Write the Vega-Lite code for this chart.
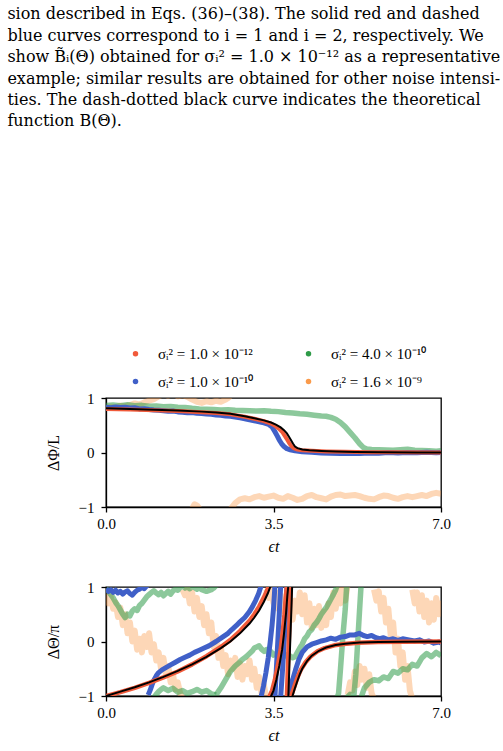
{
  "$schema": "https://vega.github.io/schema/vega-lite/v6.json",
  "padding": {"left": 7, "top": 6, "right": 5, "bottom": 5},
  "title": {
    "text": [
      "sion described in Eqs. (36)–(38). The solid red and dashed",
      "blue curves correspond to i = 1 and i = 2, respectively. We",
      "show B̃ᵢ(Θ) obtained for σᵢ² = 1.0 × 10⁻¹² as a representative",
      "example; similar results are obtained for other noise intensi-",
      "ties. The dash-dotted black curve indicates the theoretical",
      "function B(Θ)."
    ],
    "anchor": "start",
    "frame": "bounds",
    "dx": -37,
    "offset": 216,
    "font": "DejaVu Serif",
    "fontSize": 16,
    "fontWeight": "normal",
    "lineHeight": 21.4,
    "color": "black"
  },
  "datasets": {
    "a_k": [{"t":0,"v":0.81},{"t":0.5,"v":0.8},{"t":1,"v":0.785},{"t":1.5,"v":0.77},{"t":2,"v":0.75},{"t":2.3,"v":0.735},{"t":2.6,"v":0.71},{"t":2.9,"v":0.665},{"t":3.1,"v":0.63},{"t":3.3,"v":0.59},{"t":3.45,"v":0.55},{"t":3.55,"v":0.51},{"t":3.65,"v":0.46},{"t":3.72,"v":0.41},{"t":3.78,"v":0.35},{"t":3.83,"v":0.28},{"t":3.87,"v":0.22},{"t":3.91,"v":0.16},{"t":3.95,"v":0.11},{"t":4,"v":0.08},{"t":4.1,"v":0.055},{"t":4.25,"v":0.04},{"t":4.5,"v":0.028},{"t":4.8,"v":0.018},{"t":5.2,"v":0.01},{"t":5.8,"v":0.004},{"t":6.5,"v":0.001},{"t":7,"v":0}],
    "a_r": [{"t":0,"v":0.8},{"t":0.5,"v":0.79},{"t":1,"v":0.775},{"t":1.5,"v":0.76},{"t":2,"v":0.74},{"t":2.3,"v":0.725},{"t":2.6,"v":0.7},{"t":2.9,"v":0.655},{"t":3.1,"v":0.62},{"t":3.3,"v":0.575},{"t":3.45,"v":0.53},{"t":3.55,"v":0.48},{"t":3.62,"v":0.43},{"t":3.69,"v":0.37},{"t":3.74,"v":0.3},{"t":3.79,"v":0.23},{"t":3.83,"v":0.17},{"t":3.87,"v":0.12},{"t":3.92,"v":0.08},{"t":4,"v":0.055},{"t":4.1,"v":0.04},{"t":4.3,"v":0.03},{"t":4.6,"v":0.02},{"t":5,"v":0.012},{"t":5.5,"v":0.006},{"t":6,"v":0.003},{"t":7,"v":0}],
    "a_b": [{"t":0,"v":0.83},{"t":0.1,"v":0.82},{"t":0.2,"v":0.835},{"t":0.3,"v":0.825},{"t":0.4,"v":0.83},{"t":0.5,"v":0.815},{"t":0.6,"v":0.82},{"t":0.7,"v":0.8},{"t":0.8,"v":0.805},{"t":0.9,"v":0.79},{"t":1,"v":0.78},{"t":1.1,"v":0.775},{"t":1.2,"v":0.765},{"t":1.3,"v":0.755},{"t":1.4,"v":0.76},{"t":1.5,"v":0.745},{"t":1.6,"v":0.74},{"t":1.7,"v":0.73},{"t":1.8,"v":0.735},{"t":1.9,"v":0.72},{"t":2,"v":0.715},{"t":2.1,"v":0.705},{"t":2.2,"v":0.7},{"t":2.3,"v":0.69},{"t":2.4,"v":0.685},{"t":2.5,"v":0.67},{"t":2.6,"v":0.665},{"t":2.7,"v":0.65},{"t":2.8,"v":0.635},{"t":2.9,"v":0.62},{"t":3,"v":0.6},{"t":3.1,"v":0.58},{"t":3.2,"v":0.565},{"t":3.3,"v":0.545},{"t":3.4,"v":0.515},{"t":3.47,"v":0.47},{"t":3.53,"v":0.38},{"t":3.58,"v":0.3},{"t":3.62,"v":0.23},{"t":3.67,"v":0.16},{"t":3.72,"v":0.11},{"t":3.78,"v":0.07},{"t":3.85,"v":0.05},{"t":3.95,"v":0.03},{"t":4.1,"v":0.015},{"t":4.3,"v":0.005},{"t":4.5,"v":-0.01},{"t":4.7,"v":-0.015},{"t":4.9,"v":-0.02},{"t":5.1,"v":-0.012},{"t":5.3,"v":-0.018},{"t":5.5,"v":-0.008},{"t":5.7,"v":-0.012},{"t":5.9,"v":-0.002},{"t":6.1,"v":-0.01},{"t":6.3,"v":0},{"t":6.5,"v":-0.006},{"t":6.7,"v":0.004},{"t":6.9,"v":-0.003},{"t":7,"v":0}],
    "a_g": [{"t":0,"v":0.86},{"t":0.15,"v":0.87},{"t":0.3,"v":0.86},{"t":0.45,"v":0.875},{"t":0.6,"v":0.86},{"t":0.75,"v":0.865},{"t":0.9,"v":0.85},{"t":1.05,"v":0.855},{"t":1.2,"v":0.84},{"t":1.35,"v":0.845},{"t":1.5,"v":0.83},{"t":1.65,"v":0.825},{"t":1.8,"v":0.81},{"t":1.95,"v":0.8},{"t":2.1,"v":0.795},{"t":2.25,"v":0.79},{"t":2.4,"v":0.78},{"t":2.55,"v":0.785},{"t":2.7,"v":0.775},{"t":2.85,"v":0.77},{"t":3,"v":0.765},{"t":3.15,"v":0.76},{"t":3.3,"v":0.765},{"t":3.45,"v":0.755},{"t":3.6,"v":0.75},{"t":3.75,"v":0.735},{"t":3.9,"v":0.725},{"t":4.05,"v":0.71},{"t":4.2,"v":0.7},{"t":4.35,"v":0.685},{"t":4.5,"v":0.67},{"t":4.6,"v":0.665},{"t":4.7,"v":0.645},{"t":4.8,"v":0.61},{"t":4.9,"v":0.55},{"t":5,"v":0.47},{"t":5.1,"v":0.37},{"t":5.2,"v":0.27},{"t":5.3,"v":0.16},{"t":5.38,"v":0.09},{"t":5.45,"v":0.065},{"t":5.55,"v":0.055},{"t":5.7,"v":0.05},{"t":5.85,"v":0.045},{"t":6,"v":0.04},{"t":6.15,"v":0.05},{"t":6.3,"v":0.06},{"t":6.45,"v":0.04},{"t":6.6,"v":0.035},{"t":6.75,"v":0.03},{"t":6.9,"v":0.025},{"t":7,"v":0.03}],
    "a_o": [{"g":1,"t":0,"v":0.82},{"g":1,"t":0.1,"v":0.84},{"g":1,"t":0.2,"v":0.83},{"g":1,"t":0.3,"v":0.86},{"g":1,"t":0.4,"v":0.85},{"g":1,"t":0.5,"v":0.87},{"g":1,"t":0.6,"v":0.9},{"g":1,"t":0.7,"v":0.88},{"g":1,"t":0.8,"v":0.92},{"g":1,"t":0.9,"v":0.95},{"g":1,"t":1,"v":0.98},{"g":1,"t":1.1,"v":1.03},{"g":1,"t":1.2,"v":1.07},{"g":1,"t":1.3,"v":1.04},{"g":1,"t":1.4,"v":1.08},{"g":1,"t":1.5,"v":1.03},{"g":1,"t":1.6,"v":1.05},{"g":1,"t":1.7,"v":1.02},{"g":1,"t":1.8,"v":0.97},{"g":1,"t":1.9,"v":0.93},{"g":1,"t":2,"v":0.91},{"g":1,"t":2.1,"v":0.94},{"g":1,"t":2.2,"v":0.92},{"g":1,"t":2.3,"v":0.95},{"g":1,"t":2.4,"v":0.93},{"g":1,"t":2.5,"v":0.97},{"g":1,"t":2.55,"v":1},{"g":1,"t":2.6,"v":1.04},
      {"g":2,"t":1.8,"v":-1.03},{"g":2,"t":1.85,"v":-0.95},{"g":2,"t":1.9,"v":-0.97},{"g":2,"t":1.95,"v":-1.03},
      {"g":3,"t":2.6,"v":-1.04},{"g":3,"t":2.7,"v":-0.93},{"g":3,"t":2.8,"v":-0.86},{"g":3,"t":2.9,"v":-0.84},{"g":3,"t":3,"v":-0.86},{"g":3,"t":3.1,"v":-0.82},{"g":3,"t":3.2,"v":-0.8},{"g":3,"t":3.3,"v":-0.83},{"g":3,"t":3.4,"v":-0.81},{"g":3,"t":3.5,"v":-0.79},{"g":3,"t":3.6,"v":-0.83},{"g":3,"t":3.7,"v":-0.85},{"g":3,"t":3.8,"v":-0.8},{"g":3,"t":3.9,"v":-0.83},{"g":3,"t":4,"v":-0.87},{"g":3,"t":4.1,"v":-0.85},{"g":3,"t":4.2,"v":-0.8},{"g":3,"t":4.3,"v":-0.78},{"g":3,"t":4.4,"v":-0.82},{"g":3,"t":4.5,"v":-0.84},{"g":3,"t":4.6,"v":-0.86},{"g":3,"t":4.7,"v":-0.81},{"g":3,"t":4.8,"v":-0.78},{"g":3,"t":4.9,"v":-0.77},{"g":3,"t":5,"v":-0.8},{"g":3,"t":5.1,"v":-0.79},{"g":3,"t":5.2,"v":-0.78},{"g":3,"t":5.3,"v":-0.8},{"g":3,"t":5.4,"v":-0.83},{"g":3,"t":5.5,"v":-0.85},{"g":3,"t":5.6,"v":-0.86},{"g":3,"t":5.7,"v":-0.82},{"g":3,"t":5.8,"v":-0.79},{"g":3,"t":5.9,"v":-0.8},{"g":3,"t":6,"v":-0.83},{"g":3,"t":6.1,"v":-0.85},{"g":3,"t":6.2,"v":-0.82},{"g":3,"t":6.3,"v":-0.8},{"g":3,"t":6.4,"v":-0.82},{"g":3,"t":6.5,"v":-0.8},{"g":3,"t":6.6,"v":-0.78},{"g":3,"t":6.7,"v":-0.8},{"g":3,"t":6.8,"v":-0.76},{"g":3,"t":6.9,"v":-0.74},{"g":3,"t":7,"v":-0.76}],
    "b_k": [{"g":1,"t":0,"v":-1},{"g":1,"t":0.3,"v":-0.92},{"g":1,"t":0.6,"v":-0.84},{"g":1,"t":0.9,"v":-0.75},{"g":1,"t":1.2,"v":-0.65},{"g":1,"t":1.5,"v":-0.54},{"g":1,"t":1.8,"v":-0.42},{"g":1,"t":2.1,"v":-0.28},{"g":1,"t":2.4,"v":-0.12},{"g":1,"t":2.6,"v":0},{"g":1,"t":2.8,"v":0.15},{"g":1,"t":3,"v":0.33},{"g":1,"t":3.1,"v":0.44},{"g":1,"t":3.2,"v":0.57},{"g":1,"t":3.3,"v":0.73},{"g":1,"t":3.38,"v":0.88},{"g":1,"t":3.44,"v":1.02},
      {"g":2,"t":3.44,"v":-1.02},{"g":2,"t":3.5,"v":-0.9},{"g":2,"t":3.56,"v":-0.7},{"g":2,"t":3.62,"v":-0.45},{"g":2,"t":3.68,"v":-0.15},{"g":2,"t":3.72,"v":0.15},{"g":2,"t":3.76,"v":0.5},{"g":2,"t":3.79,"v":0.85},{"g":2,"t":3.81,"v":1.02},
      {"g":3,"t":3.81,"v":-1.02},{"g":3,"t":3.83,"v":-0.5},{"g":3,"t":3.85,"v":0},{"g":3,"t":3.87,"v":0.5},{"g":3,"t":3.89,"v":1.02},
      {"g":4,"t":3.89,"v":-1.02},{"g":4,"t":3.95,"v":-0.85},{"g":4,"t":4,"v":-0.72},{"g":4,"t":4.05,"v":-0.6},{"g":4,"t":4.1,"v":-0.5},{"g":4,"t":4.2,"v":-0.36},{"g":4,"t":4.3,"v":-0.26},{"g":4,"t":4.45,"v":-0.17},{"g":4,"t":4.6,"v":-0.11},{"g":4,"t":4.8,"v":-0.065},{"g":4,"t":5,"v":-0.04},{"g":4,"t":5.3,"v":-0.02},{"g":4,"t":5.7,"v":-0.008},{"g":4,"t":6.2,"v":-0.003},{"g":4,"t":7,"v":0}],
    "b_r": [{"g":1,"t":0,"v":-1},{"g":1,"t":0.3,"v":-0.93},{"g":1,"t":0.6,"v":-0.85},{"g":1,"t":0.9,"v":-0.76},{"g":1,"t":1.2,"v":-0.66},{"g":1,"t":1.5,"v":-0.55},{"g":1,"t":1.8,"v":-0.42},{"g":1,"t":2.1,"v":-0.27},{"g":1,"t":2.4,"v":-0.1},{"g":1,"t":2.6,"v":0.03},{"g":1,"t":2.8,"v":0.19},{"g":1,"t":3,"v":0.38},{"g":1,"t":3.1,"v":0.5},{"g":1,"t":3.2,"v":0.64},{"g":1,"t":3.3,"v":0.81},{"g":1,"t":3.36,"v":0.93},{"g":1,"t":3.41,"v":1.02},
      {"g":2,"t":3.41,"v":-1.02},{"g":2,"t":3.47,"v":-0.9},{"g":2,"t":3.53,"v":-0.7},{"g":2,"t":3.59,"v":-0.45},{"g":2,"t":3.65,"v":-0.15},{"g":2,"t":3.69,"v":0.15},{"g":2,"t":3.73,"v":0.5},{"g":2,"t":3.76,"v":0.85},{"g":2,"t":3.78,"v":1.02},
      {"g":3,"t":3.78,"v":-1.02},{"g":3,"t":3.8,"v":-0.5},{"g":3,"t":3.82,"v":0},{"g":3,"t":3.84,"v":0.5},{"g":3,"t":3.86,"v":1.02},
      {"g":4,"t":3.86,"v":-1.02},{"g":4,"t":3.92,"v":-0.87},{"g":4,"t":3.97,"v":-0.74},{"g":4,"t":4.02,"v":-0.62},{"g":4,"t":4.07,"v":-0.52},{"g":4,"t":4.17,"v":-0.38},{"g":4,"t":4.27,"v":-0.28},{"g":4,"t":4.42,"v":-0.18},{"g":4,"t":4.57,"v":-0.12},{"g":4,"t":4.77,"v":-0.07},{"g":4,"t":4.97,"v":-0.045},{"g":4,"t":5.27,"v":-0.022},{"g":4,"t":5.67,"v":-0.01},{"g":4,"t":6.2,"v":-0.004},{"g":4,"t":7,"v":0}],
    "b_b": [{"g":1,"t":0,"v":0.97},{"g":1,"t":0.05,"v":0.92},{"g":1,"t":0.1,"v":0.95},{"g":1,"t":0.15,"v":0.9},{"g":1,"t":0.2,"v":0.94},{"g":1,"t":0.25,"v":0.89},{"g":1,"t":0.3,"v":0.92},{"g":1,"t":0.35,"v":0.87},{"g":1,"t":0.4,"v":0.91},{"g":1,"t":0.45,"v":0.93},{"g":1,"t":0.5,"v":0.88},{"g":1,"t":0.55,"v":0.85},{"g":1,"t":0.6,"v":0.9},{"g":1,"t":0.65,"v":0.94},{"g":1,"t":0.7,"v":0.96},{"g":1,"t":0.75,"v":0.99},{"g":1,"t":0.8,"v":0.97},{"g":1,"t":0.85,"v":1.02},{"g":1,"t":0.88,"v":1.04},
      {"g":2,"t":0.88,"v":-0.98},{"g":2,"t":0.92,"v":-0.9},{"g":2,"t":0.96,"v":-0.8},{"g":2,"t":1,"v":-0.71},{"g":2,"t":1.05,"v":-0.63},{"g":2,"t":1.1,"v":-0.57},{"g":2,"t":1.17,"v":-0.52},{"g":2,"t":1.25,"v":-0.48},{"g":2,"t":1.35,"v":-0.43},{"g":2,"t":1.45,"v":-0.38},{"g":2,"t":1.55,"v":-0.33},{"g":2,"t":1.65,"v":-0.29},{"g":2,"t":1.75,"v":-0.25},{"g":2,"t":1.85,"v":-0.2},{"g":2,"t":1.95,"v":-0.16},{"g":2,"t":2.05,"v":-0.12},{"g":2,"t":2.15,"v":-0.08},{"g":2,"t":2.3,"v":0},{"g":2,"t":2.45,"v":0.09},{"g":2,"t":2.55,"v":0.15},{"g":2,"t":2.63,"v":0.22},{"g":2,"t":2.72,"v":0.29},{"g":2,"t":2.8,"v":0.36},{"g":2,"t":2.9,"v":0.44},{"g":2,"t":2.99,"v":0.54},{"g":2,"t":3.06,"v":0.64},{"g":2,"t":3.13,"v":0.76},{"g":2,"t":3.19,"v":0.88},{"g":2,"t":3.24,"v":1.02},
      {"g":3,"t":3.24,"v":-1.02},{"g":3,"t":3.29,"v":-0.82},{"g":3,"t":3.34,"v":-0.58},{"g":3,"t":3.39,"v":-0.3},{"g":3,"t":3.43,"v":-0.02},{"g":3,"t":3.47,"v":0.3},{"g":3,"t":3.5,"v":0.6},{"g":3,"t":3.53,"v":1.02},
      {"g":4,"t":3.53,"v":-1.02},{"g":4,"t":3.56,"v":-0.5},{"g":4,"t":3.59,"v":0},{"g":4,"t":3.62,"v":0.5},{"g":4,"t":3.65,"v":1.02},
      {"g":5,"t":3.65,"v":-1.02},{"g":5,"t":3.69,"v":-0.5},{"g":5,"t":3.73,"v":0.1},{"g":5,"t":3.76,"v":0.6},{"g":5,"t":3.78,"v":1.02},
      {"g":6,"t":3.78,"v":-1.02},{"g":6,"t":3.84,"v":-0.85},{"g":6,"t":3.9,"v":-0.7},{"g":6,"t":3.96,"v":-0.52},{"g":6,"t":4.03,"v":-0.33},{"g":6,"t":4.1,"v":-0.2},{"g":6,"t":4.2,"v":-0.1},{"g":6,"t":4.3,"v":-0.05},{"g":6,"t":4.4,"v":-0.02},{"g":6,"t":4.5,"v":0.01},{"g":6,"t":4.6,"v":0.03},{"g":6,"t":4.7,"v":0.06},{"g":6,"t":4.8,"v":0.04},{"g":6,"t":4.9,"v":0.08},{"g":6,"t":5,"v":0.09},{"g":6,"t":5.1,"v":0.12},{"g":6,"t":5.2,"v":0.12},{"g":6,"t":5.29,"v":0.15},{"g":6,"t":5.38,"v":0.11},{"g":6,"t":5.46,"v":0.09},{"g":6,"t":5.55,"v":0.11},{"g":6,"t":5.64,"v":0.07},{"g":6,"t":5.72,"v":0.05},{"g":6,"t":5.8,"v":0.07},{"g":6,"t":5.9,"v":0.03},{"g":6,"t":6,"v":0.05},{"g":6,"t":6.1,"v":0.02},{"g":6,"t":6.2,"v":0.05},{"g":6,"t":6.33,"v":0.03},{"g":6,"t":6.45,"v":0.01},{"g":6,"t":6.55,"v":0.03},{"g":6,"t":6.65,"v":-0.01},{"g":6,"t":6.75,"v":0.01},{"g":6,"t":6.85,"v":-0.03},{"g":6,"t":6.96,"v":-0.01},{"g":6,"t":7,"v":-0.03}],
    "b_g": [{"g":1,"t":0,"v":0.98},{"g":1,"t":0.05,"v":0.92},{"g":1,"t":0.1,"v":0.86},{"g":1,"t":0.15,"v":0.8},{"g":1,"t":0.2,"v":0.72},{"g":1,"t":0.25,"v":0.66},{"g":1,"t":0.3,"v":0.58},{"g":1,"t":0.35,"v":0.5},{"g":1,"t":0.4,"v":0.44},{"g":1,"t":0.45,"v":0.5},{"g":1,"t":0.5,"v":0.47},{"g":1,"t":0.55,"v":0.56},{"g":1,"t":0.6,"v":0.6},{"g":1,"t":0.65,"v":0.57},{"g":1,"t":0.7,"v":0.66},{"g":1,"t":0.75,"v":0.7},{"g":1,"t":0.8,"v":0.76},{"g":1,"t":0.85,"v":0.82},{"g":1,"t":0.9,"v":0.86},{"g":1,"t":0.95,"v":0.9},{"g":1,"t":1,"v":0.93},{"g":1,"t":1.05,"v":0.89},{"g":1,"t":1.1,"v":0.86},{"g":1,"t":1.15,"v":0.9},{"g":1,"t":1.2,"v":0.84},{"g":1,"t":1.25,"v":0.88},{"g":1,"t":1.3,"v":0.92},{"g":1,"t":1.35,"v":0.87},{"g":1,"t":1.4,"v":0.93},{"g":1,"t":1.45,"v":0.96},{"g":1,"t":1.5,"v":0.94},{"g":1,"t":1.55,"v":0.99},{"g":1,"t":1.6,"v":1.02},{"g":1,"t":1.65,"v":0.98},{"g":1,"t":1.7,"v":1},{"g":1,"t":1.75,"v":0.97},{"g":1,"t":1.8,"v":1.01},{"g":1,"t":1.85,"v":0.99},{"g":1,"t":1.9,"v":0.96},{"g":1,"t":1.95,"v":0.99},{"g":1,"t":2,"v":0.95},{"g":1,"t":2.1,"v":0.92},{"g":1,"t":2.2,"v":0.95},{"g":1,"t":2.25,"v":0.98},{"g":1,"t":2.3,"v":1.03},{"g":1,"t":2.35,"v":1.05},
      {"g":2,"t":1,"v":-1.03},{"g":2,"t":1.05,"v":-0.97},{"g":2,"t":1.1,"v":-0.92},{"g":2,"t":1.15,"v":-0.88},{"g":2,"t":1.2,"v":-0.85},{"g":2,"t":1.3,"v":-0.9},{"g":2,"t":1.4,"v":-0.86},{"g":2,"t":1.5,"v":-0.93},{"g":2,"t":1.6,"v":-0.9},{"g":2,"t":1.7,"v":-0.95},{"g":2,"t":1.8,"v":-0.92},{"g":2,"t":1.9,"v":-0.88},{"g":2,"t":2,"v":-0.93},{"g":2,"t":2.1,"v":-0.9},{"g":2,"t":2.2,"v":-0.96},{"g":2,"t":2.3,"v":-0.98},
      {"g":4,"t":2.3,"v":-0.98},{"g":4,"t":2.4,"v":-0.85},{"g":4,"t":2.5,"v":-0.7},{"g":4,"t":2.6,"v":-0.55},{"g":4,"t":2.7,"v":-0.45},{"g":4,"t":2.78,"v":-0.39},{"g":4,"t":2.85,"v":-0.33},{"g":4,"t":2.9,"v":-0.3},{"g":4,"t":2.95,"v":-0.26},{"g":4,"t":3,"v":-0.22},{"g":4,"t":3.06,"v":-0.17},{"g":4,"t":3.1,"v":-0.12},{"g":4,"t":3.15,"v":-0.1},{"g":4,"t":3.2,"v":-0.08},{"g":4,"t":3.25,"v":-0.14},{"g":4,"t":3.3,"v":-0.18},{"g":4,"t":3.35,"v":-0.15},{"g":4,"t":3.4,"v":-0.22},{"g":4,"t":3.45,"v":-0.19},{"g":4,"t":3.5,"v":-0.25},{"g":4,"t":3.6,"v":-0.2},{"g":4,"t":3.7,"v":-0.28},{"g":4,"t":3.8,"v":-0.24},{"g":4,"t":3.9,"v":-0.3},{"g":4,"t":3.95,"v":-0.28},{"g":4,"t":4,"v":-0.2},{"g":4,"t":4.05,"v":-0.12},{"g":4,"t":4.1,"v":-0.05},{"g":4,"t":4.15,"v":0.05},{"g":4,"t":4.2,"v":0.1},{"g":4,"t":4.25,"v":0.18},{"g":4,"t":4.3,"v":0.22},{"g":4,"t":4.35,"v":0.3},{"g":4,"t":4.4,"v":0.35},{"g":4,"t":4.45,"v":0.42},{"g":4,"t":4.5,"v":0.5},{"g":4,"t":4.55,"v":0.56},{"g":4,"t":4.6,"v":0.62},{"g":4,"t":4.65,"v":0.7},{"g":4,"t":4.7,"v":0.78},{"g":4,"t":4.75,"v":0.86},{"g":4,"t":4.8,"v":0.95},{"g":4,"t":4.83,"v":1.03},
      {"g":5,"t":4.83,"v":-1.03},{"g":5,"t":4.86,"v":-0.95},{"g":5,"t":4.9,"v":-0.5},{"g":5,"t":4.95,"v":0.1},{"g":5,"t":5,"v":0.6},{"g":5,"t":5.03,"v":1.03},
      {"g":6,"t":5.03,"v":-1.03},{"g":6,"t":5.1,"v":-0.97},{"g":6,"t":5.18,"v":-0.99},{"g":6,"t":5.22,"v":-0.6},{"g":6,"t":5.26,"v":0},{"g":6,"t":5.3,"v":0.6},{"g":6,"t":5.33,"v":1.03},
      {"g":7,"t":5.33,"v":-1.03},{"g":7,"t":5.4,"v":-0.85},{"g":7,"t":5.5,"v":-0.75},{"g":7,"t":5.6,"v":-0.7},{"g":7,"t":5.7,"v":-0.72},{"g":7,"t":5.8,"v":-0.65},{"g":7,"t":5.9,"v":-0.68},{"g":7,"t":6,"v":-0.55},{"g":7,"t":6.1,"v":-0.58},{"g":7,"t":6.2,"v":-0.5},{"g":7,"t":6.3,"v":-0.52},{"g":7,"t":6.4,"v":-0.42},{"g":7,"t":6.5,"v":-0.45},{"g":7,"t":6.6,"v":-0.3},{"g":7,"t":6.7,"v":-0.22},{"g":7,"t":6.8,"v":-0.28},{"g":7,"t":6.9,"v":-0.2},{"g":7,"t":7,"v":-0.26}],
    "b_o": [{"g":1,"t":0,"v":0.88},{"g":1,"t":0.05,"v":0.7},{"g":1,"t":0.1,"v":0.82},{"g":1,"t":0.15,"v":0.6},{"g":1,"t":0.2,"v":0.72},{"g":1,"t":0.25,"v":0.45},{"g":1,"t":0.3,"v":0.62},{"g":1,"t":0.35,"v":0.3},{"g":1,"t":0.4,"v":0.5},{"g":1,"t":0.45,"v":0.15},{"g":1,"t":0.5,"v":0.35},{"g":1,"t":0.55,"v":0},{"g":1,"t":0.6,"v":0.2},{"g":1,"t":0.65,"v":-0.15},{"g":1,"t":0.7,"v":0.05},{"g":1,"t":0.75,"v":-0.2},{"g":1,"t":0.8,"v":0.1},{"g":1,"t":0.85,"v":-0.1},{"g":1,"t":0.9,"v":0.15},{"g":1,"t":0.95,"v":-0.2},{"g":1,"t":1,"v":-0.05},{"g":1,"t":1.05,"v":-0.35},{"g":1,"t":1.1,"v":-0.2},{"g":1,"t":1.15,"v":-0.5},{"g":1,"t":1.2,"v":-0.3},{"g":1,"t":1.25,"v":-0.6},{"g":1,"t":1.3,"v":-0.45},{"g":1,"t":1.35,"v":-0.75},{"g":1,"t":1.4,"v":-0.6},{"g":1,"t":1.45,"v":-0.88},{"g":1,"t":1.5,"v":-0.75},{"g":1,"t":1.55,"v":-0.95},{"g":1,"t":1.6,"v":-1.05},
      {"g":2,"t":1.6,"v":0.95},{"g":2,"t":1.65,"v":0.85},{"g":2,"t":1.7,"v":0.98},{"g":2,"t":1.75,"v":0.7},{"g":2,"t":1.8,"v":0.9},{"g":2,"t":1.85,"v":0.55},{"g":2,"t":1.9,"v":0.8},{"g":2,"t":1.95,"v":0.45},{"g":2,"t":2,"v":0.65},{"g":2,"t":2.05,"v":0.3},{"g":2,"t":2.1,"v":0.5},{"g":2,"t":2.15,"v":0.15},{"g":2,"t":2.2,"v":0.35},{"g":2,"t":2.25,"v":-0.1},{"g":2,"t":2.3,"v":0.1},{"g":2,"t":2.35,"v":-0.3},{"g":2,"t":2.4,"v":-0.1},{"g":2,"t":2.45,"v":-0.45},{"g":2,"t":2.5,"v":-0.25},{"g":2,"t":2.55,"v":-0.6},{"g":2,"t":2.6,"v":-0.35},{"g":2,"t":2.65,"v":-0.5},{"g":2,"t":2.7,"v":-0.3},{"g":2,"t":2.75,"v":-0.65},{"g":2,"t":2.8,"v":-0.4},{"g":2,"t":2.85,"v":-0.7},{"g":2,"t":2.9,"v":-0.45},{"g":2,"t":2.95,"v":-0.6},{"g":2,"t":3,"v":-0.35},{"g":2,"t":3.05,"v":-0.7},{"g":2,"t":3.1,"v":-0.5},{"g":2,"t":3.15,"v":-0.85},{"g":2,"t":3.2,"v":-0.65},{"g":2,"t":3.25,"v":-0.95},{"g":2,"t":3.3,"v":-0.8},{"g":2,"t":3.35,"v":-1.05},
      {"g":3,"t":3.35,"v":0.95},{"g":3,"t":3.4,"v":0.8},{"g":3,"t":3.45,"v":0.95},{"g":3,"t":3.5,"v":0.7},{"g":3,"t":3.55,"v":0.9},{"g":3,"t":3.6,"v":0.6},{"g":3,"t":3.65,"v":0.85},{"g":3,"t":3.7,"v":0.5},{"g":3,"t":3.75,"v":0.75},{"g":3,"t":3.8,"v":0.45},{"g":3,"t":3.85,"v":0.7},{"g":3,"t":3.9,"v":0.4},{"g":3,"t":3.95,"v":0.75},{"g":3,"t":4,"v":0.55},{"g":3,"t":4.05,"v":0.9},{"g":3,"t":4.1,"v":0.5},{"g":3,"t":4.15,"v":0.85},{"g":3,"t":4.2,"v":0.35},{"g":3,"t":4.25,"v":0.7},{"g":3,"t":4.3,"v":0.25},{"g":3,"t":4.35,"v":0.6},{"g":3,"t":4.4,"v":0.3},{"g":3,"t":4.45,"v":0.65},{"g":3,"t":4.5,"v":0.25},{"g":3,"t":4.55,"v":0.55},{"g":3,"t":4.6,"v":0.3},{"g":3,"t":4.65,"v":0.7},{"g":3,"t":4.7,"v":0.45},{"g":3,"t":4.75,"v":0.9},{"g":3,"t":4.8,"v":0.6},{"g":3,"t":4.85,"v":0.95},{"g":3,"t":4.9,"v":0.7},{"g":3,"t":4.95,"v":0.98},{"g":3,"t":5,"v":0.75},{"g":3,"t":5.05,"v":1.05},
      {"g":4,"t":5.05,"v":-0.98},{"g":4,"t":5.1,"v":-0.75},{"g":4,"t":5.15,"v":-0.9},{"g":4,"t":5.2,"v":-0.55},{"g":4,"t":5.25,"v":-0.8},{"g":4,"t":5.3,"v":-0.45},{"g":4,"t":5.35,"v":-0.7},{"g":4,"t":5.4,"v":-0.5},{"g":4,"t":5.45,"v":-0.85},{"g":4,"t":5.5,"v":-0.6},{"g":4,"t":5.55,"v":-0.95},{"g":4,"t":5.6,"v":-1.05},
      {"g":5,"t":5.6,"v":0.95},{"g":5,"t":5.65,"v":0.75},{"g":5,"t":5.7,"v":0.92},{"g":5,"t":5.75,"v":0.55},{"g":5,"t":5.8,"v":0.8},{"g":5,"t":5.85,"v":0.35},{"g":5,"t":5.9,"v":0.6},{"g":5,"t":5.95,"v":0.1},{"g":5,"t":6,"v":0.35},{"g":5,"t":6.05,"v":-0.2},{"g":5,"t":6.1,"v":0.05},{"g":5,"t":6.15,"v":-0.45},{"g":5,"t":6.2,"v":-0.2},{"g":5,"t":6.25,"v":-0.7},{"g":5,"t":6.3,"v":-0.45},{"g":5,"t":6.35,"v":-0.9},{"g":5,"t":6.4,"v":-1.05},
      {"g":6,"t":6.4,"v":0.95},{"g":6,"t":6.45,"v":0.7},{"g":6,"t":6.5,"v":0.9},{"g":6,"t":6.55,"v":0.55},{"g":6,"t":6.6,"v":0.85},{"g":6,"t":6.65,"v":0.45},{"g":6,"t":6.7,"v":0.75},{"g":6,"t":6.75,"v":0.35},{"g":6,"t":6.8,"v":0.7},{"g":6,"t":6.85,"v":0.4},{"g":6,"t":6.9,"v":0.8},{"g":6,"t":6.95,"v":0.5},{"g":6,"t":7,"v":0.75}]
  },
  "bounds": "flush",
  "spacing": 80,
  "resolve": {"legend": {"color": "independent"}},
  "vconcat": [
    {
      "width": 335,
      "height": 109,
      "encoding": {
        "x": {"field": "t", "type": "quantitative", "scale": {"domain": [0, 7], "nice": false, "zero": false}, "axis": {"values": [0, 3.5, 7], "format": ".1f", "title": "ϵt", "titleFontStyle": "italic"}},
        "y": {"field": "v", "type": "quantitative", "scale": {"domain": [-1, 1], "nice": false, "zero": false}, "axis": {"values": [-1, 0, 1], "labelExpr": "datum.value < -0.5 ? '−1' : (datum.value > 0.5 ? '1' : '0')", "labelOverlap": false, "title": "ΔΦ/L"}},
        "detail": {"field": "g", "type": "nominal"}
      },
      "layer": [
        {"data": {"name": "a_o"}, "mark": {"type": "line", "clip": true, "strokeWidth": 6, "opacity": 0.4, "strokeJoin": "round"},
         "encoding": {"color": {"datum": "σᵢ² = 1.6 × 10⁻⁹", "type": "nominal",
           "scale": {"domain": ["σᵢ² = 1.0 × 10⁻¹²", "σᵢ² = 1.0 × 10⁻¹⁰", "σᵢ² = 4.0 × 10⁻¹⁰", "σᵢ² = 1.6 × 10⁻⁹"], "range": ["#f15a3a", "#4060c8", "#2e9b48", "#fa9a4a"]},
           "legend": {"orient": "none", "legendX": 22, "legendY": -52, "columns": 2, "title": null, "symbolType": "circle", "symbolSize": 30, "symbolStrokeWidth": 0, "symbolOpacity": 1, "labelFont": "Liberation Serif", "labelFontSize": 15, "labelColor": "black", "labelOffset": 15, "columnPadding": 47, "rowPadding": 12, "padding": 0,
             "encode": {"symbols": {"update": {"fill": {"scale": "color", "field": "value"}, "stroke": {"value": "transparent"}, "opacity": {"value": 1}}}}}}}},
        {"data": {"name": "a_g"}, "mark": {"type": "line", "clip": true, "strokeWidth": 5.5, "opacity": 0.55, "strokeJoin": "round"}, "encoding": {"color": {"datum": "σᵢ² = 4.0 × 10⁻¹⁰", "type": "nominal"}}},
        {"data": {"name": "a_b"}, "mark": {"type": "line", "clip": true, "strokeWidth": 5, "strokeJoin": "round"}, "encoding": {"color": {"datum": "σᵢ² = 1.0 × 10⁻¹⁰", "type": "nominal"}}},
        {"data": {"name": "a_r"}, "mark": {"type": "line", "clip": true, "strokeWidth": 4, "strokeJoin": "round"}, "encoding": {"color": {"datum": "σᵢ² = 1.0 × 10⁻¹²", "type": "nominal"}}},
        {"data": {"name": "a_k"}, "mark": {"type": "line", "clip": true, "strokeWidth": 2, "color": "black"}, "encoding": {}}
      ]
    },
    {
      "width": 335,
      "height": 109,
      "encoding": {
        "x": {"field": "t", "type": "quantitative", "scale": {"domain": [0, 7], "nice": false, "zero": false}, "axis": {"values": [0, 3.5, 7], "format": ".1f", "title": "ϵt", "titleFontStyle": "italic"}},
        "y": {"field": "v", "type": "quantitative", "scale": {"domain": [-1, 1], "nice": false, "zero": false}, "axis": {"values": [-1, 0, 1], "labelExpr": "datum.value < -0.5 ? '−1' : (datum.value > 0.5 ? '1' : '0')", "labelOverlap": false, "title": "ΔΘ/π"}},
        "detail": {"field": "g", "type": "nominal"}
      },
      "layer": [
        {"data": {"name": "b_o"}, "mark": {"type": "line", "clip": true, "strokeWidth": 6, "opacity": 0.4, "strokeJoin": "round"}, "encoding": {"color": {"datum": "σᵢ² = 1.6 × 10⁻⁹", "type": "nominal", "legend": null}}},
        {"data": {"name": "b_g"}, "mark": {"type": "line", "clip": true, "strokeWidth": 5.5, "opacity": 0.55, "strokeJoin": "round"}, "encoding": {"color": {"datum": "σᵢ² = 4.0 × 10⁻¹⁰", "type": "nominal", "legend": null}}},
        {"data": {"name": "b_b"}, "mark": {"type": "line", "clip": true, "strokeWidth": 5, "strokeJoin": "round"}, "encoding": {"color": {"datum": "σᵢ² = 1.0 × 10⁻¹⁰", "type": "nominal", "legend": null}}},
        {"data": {"name": "b_r"}, "mark": {"type": "line", "clip": true, "strokeWidth": 4.5, "strokeJoin": "round"}, "encoding": {"color": {"datum": "σᵢ² = 1.0 × 10⁻¹²", "type": "nominal", "legend": null}}},
        {"data": {"name": "b_k"}, "mark": {"type": "line", "clip": true, "strokeWidth": 2, "color": "black"}, "encoding": {}}
      ]
    }
  ],
  "config": {
    "font": "Liberation Serif",
    "background": "white",
    "view": {"stroke": "black", "strokeWidth": 1.3},
    "axis": {"grid": false, "domainColor": "black", "domainWidth": 1.3, "tickColor": "black", "tickWidth": 1.3, "tickSize": 5, "labelFont": "Liberation Serif", "labelFontSize": 15, "labelColor": "black", "titleFont": "Liberation Serif", "titleFontSize": 16, "titleFontWeight": "normal", "titleColor": "black", "labelFlush": false, "labelOverlap": false, "labelBound": false},
    "axisX": {"labelPadding": 4, "titlePadding": 7},
    "axisY": {"labelPadding": 7, "titlePadding": 17}
  }
}
